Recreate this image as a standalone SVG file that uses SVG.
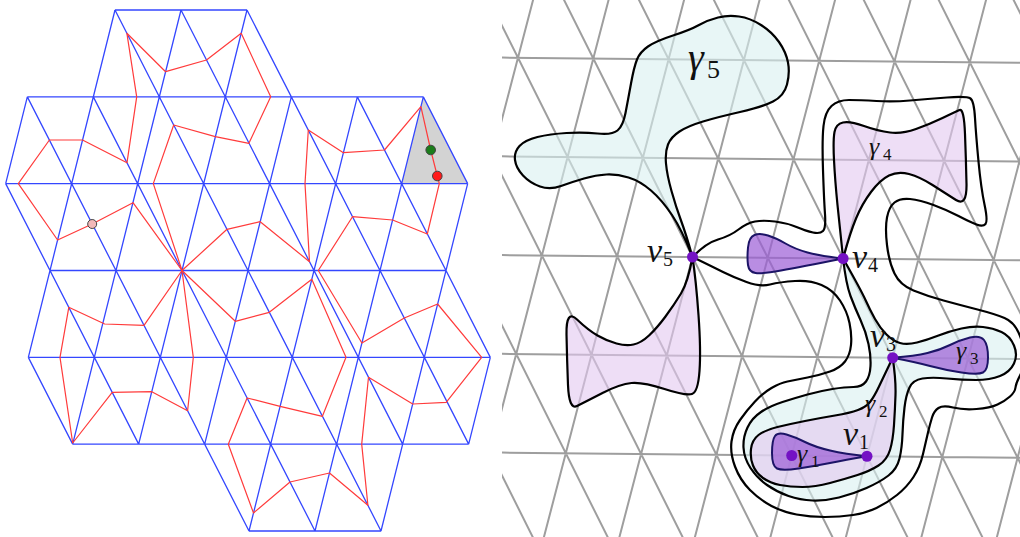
<svg xmlns="http://www.w3.org/2000/svg" width="1020" height="537" viewBox="0 0 1020 537">
<style>
.blue{fill:none;stroke:#3447ff;stroke-width:1.3}
.red{fill:none;stroke:#ff3b3b;stroke-width:1.2;stroke-linejoin:round}
.lat{fill:none;stroke:#9e9e9e;stroke-width:2}
.ol{stroke:#000;stroke-width:2.2;stroke-linejoin:round}
.cyan{fill:#d8f0f0;fill-opacity:.6}
.lav{fill:#e2c8f0;fill-opacity:.6}
.dark{fill:#9b5cd6;fill-opacity:.7;stroke:#1c1466;stroke-width:2;stroke-linejoin:round}
.pt{fill:#7412c4}
.it{font-family:"Liberation Serif","DejaVu Serif",serif;font-style:italic;fill:#111}
.sub{font-family:"Liberation Serif","DejaVu Serif",serif;fill:#111}
</style>
<defs>
<clipPath id="rc"><rect x="502" y="0" width="518" height="537"/></clipPath>
</defs>
<rect width="1020" height="537" fill="#fff"/>

<g id="left-panel">
<polygon id="shaded-triangle" points="423.33,96.83 401.67,183.67 467.67,183.67" fill="#d3d3d3"/>
<path id="blue-triangulation" class="blue" d="M115,10H247 M27.33,96.83H423.33 M5.67,183.67H467.67 M50,270.5H446 M28.33,357.33H490.33 M72.67,444.17H468.67 M249,531H381
M27.33,96.83L5.67,183.67 M115,10L28.33,357.33 M181,10L72.67,444.17 M247,10L138.67,444.17 M291.33,96.83L204.67,444.17 M357.33,96.83L249,531 M423.33,96.83L315,531 M467.67,183.67L381,531 M490.33,357.33L468.67,444.17
M423.33,96.83L467.67,183.67 M357.33,96.83L490.33,357.33 M247,10L468.67,444.17 M181,10L402.67,444.17 M115,10L381,531 M93.33,96.83L315,531 M27.33,96.83L249,531 M5.67,183.67L138.67,444.17 M28.33,357.33L72.67,444.17"/>
<g id="red-curves">
<path class="red" d="M182,270.5 L133,202.7 L92.2,224 L57.6,240 L18.3,183.67 L49.4,140 L82.5,140 L127,162.7 L136.7,96.83 L126.9,33.3 L165.6,71.7 L206.5,60 L241.2,33.3 L270.7,96.83 L248.9,143.3 L215.3,136.7 L173.7,125 L153.3,183.67 Z"/>
<path class="red" d="M182,270.5 L144,325.3 L104.7,324 L68.8,307.3 L60,357.33 L72.7,443 L112.2,392.3 L151.8,391.7 L187.6,410.7 L193.3,357.33 Z"/>
<path class="red" d="M182,270.5 L235.3,321.3 L269.3,312.3 L311.8,279.3 L346,357.33 L322.4,416.3 L280.1,406.3 L247.1,398 L228.3,444.17 L253.5,513 L290,482 L329.5,473 L367.9,505.3 L361.7,444.17 L368.5,377.3 L412.7,404 L446.2,402.3 L481.7,357.33 L437.6,304 L404.3,318 L361.9,343 L318.3,270.5 L352.5,216.7 L392.6,220 L427.3,234 L439.3,183.67 L437.3,176 L430.7,150 L420.9,106.7 L384.5,150 L343.4,152.7 L308.3,130 L305,183.67 L309.5,261.7 L260.2,221.7 L227,229.3 Z"/>
</g>
<g id="left-dots" stroke="#444" stroke-width="1">
<circle cx="92.2" cy="224" r="4.5" fill="#f2b8b8"/>
<circle cx="430.7" cy="150" r="4.8" fill="#1b7d1b"/>
<circle cx="437.3" cy="176" r="4.8" fill="#ff1a1a"/>
</g>
</g>

<g id="right-panel">
<g id="lattice" clip-path="url(#rc)">
<path class="lat" d="M502,57.59L1020,62.75 M502,156.35L1020,161.51 M502,255.1L1020,260.26 M502,353.86L1020,359.02 M502,452.61L1020,457.77
M543.7,-40.75L389.5,550.25 M619,-40L464.8,551 M694.3,-39.25L540.1,551.75 M769.6,-38.5L615.4,552.5 M844.9,-37.75L690.7,553.25 M920.2,-37L766,554 M995.5,-36.25L841.3,554.75 M1070.8,-35.5L916.6,555.5 M1146.1,-34.75L991.9,556.25
M242.5,-43.75L540.1,551.75 M317.8,-43L615.4,552.5 M393.1,-42.25L690.7,553.25 M468.4,-41.5L766,554 M543.7,-40.75L841.3,554.75 M619,-40L916.6,555.5 M694.3,-39.25L991.9,556.25 M769.6,-38.5L1067.2,557 M844.9,-37.75L1142.5,557.75 M920.2,-37L1217.8,558.5 M995.5,-36.25L1293.1,559.25"/>
</g>
<g id="regions" clip-path="url(#rc)">
<path id="outer-loop" class="ol" fill="none" d="M692.5,257 Q706,243 718,239.5 Q730,236 738.5,229.5 Q747,223 755,221.5 Q763,220 775,221.5 Q787,223 796.5,227 Q806,231 813,232.5 Q820,234 823,231 Q826,228 825,214 Q824,200 823,170 Q822,140 823.5,126 Q825,112 831.5,106 Q838,100 849,100 Q860,100 876.5,101 Q893,102 910,100.5 Q927,99 947,97.5 Q967,96 970.5,98.5 Q974,101 975,118 Q976,135 978.5,161.5 Q981,188 984.5,204.5 Q988,221 985.5,224 Q983,227 976.5,224.5 Q970,222 958.5,216 Q947,210 933.5,205 Q920,200 910,199 Q900,198 894.5,202.5 Q889,207 887,217.5 Q885,228 887,245 Q889,262 894.5,273.5 Q900,285 913.5,290.5 Q927,296 943.5,300.5 Q960,305 977.5,309.5 Q995,314 1004.5,318 Q1014,322 1019,333.5 Q1024,345 1024,356.5 Q1024,368 1020,375.5 Q1016,383 1015.5,387.5 Q1015,392 1010,396.5 Q1005,401 997.5,404.5 Q990,408 976.5,409 Q963,410 953,407.5 Q943,405 938.5,408 Q934,411 932,417.5 Q930,424 928,432.5 Q926,441 923,454 Q920,467 913.5,477 Q907,487 897,495 Q887,503 876.5,508 Q866,513 853,515 Q840,517 825,517 Q810,517 796.5,514.5 Q783,512 771.5,506 Q760,500 750,490 Q740,480 735,466.5 Q730,453 731.5,441.5 Q733,430 740,420 Q747,410 755,401.5 Q763,393 771.5,388 Q780,383 787.5,381.5 Q795,380 807.5,377.5 Q820,375 830,371.5 Q840,368 845,361.5 Q850,355 851,345 Q852,335 849.5,323 Q847,311 840,300.5 Q833,290 821.5,285 Q810,280 795,281 Q780,282 770,284.5 Q760,287 746.5,282 Q733,277 723,272 Q713,267 692.5,257 Z"/>
<path id="gamma5" class="ol cyan" d="M692.5,257 Q682,230 672,215 Q662,200 651,190.5 Q640,181 628.5,177.5 Q617,174 606.5,174.5 Q596,175 584,178.5 Q572,182 561,186 Q550,190 540,186.5 Q530,183 523,175.5 Q516,168 515,160 Q514,152 519.5,146 Q525,140 537.5,137 Q550,134 566.5,133 Q583,132 597.5,133.5 Q612,135 617.5,130.5 Q623,126 625.5,113 Q628,100 631,83.5 Q634,67 637,59.5 Q640,52 648,46.5 Q656,41 673,35.5 Q690,30 699,25 Q708,20 718,17.5 Q728,15 739,16.5 Q750,18 761,25 Q772,32 779,42 Q786,52 788,62.5 Q790,73 787,84.5 Q784,96 773,101.5 Q762,107 740,112 Q718,117 703,121.5 Q688,126 679.5,131.5 Q671,137 668,144.5 Q665,152 666,163.5 Q667,175 671.5,191 Q676,207 681,220.5 Q686,234 692.5,257 Z"/>
<path id="v5-lower-blob" class="ol lav" d="M692.5,257 Q688,282 681,293.5 Q674,305 665.5,316.5 Q657,328 649,335.5 Q641,343 633.5,344.5 Q626,346 616.5,343.5 Q607,341 597.5,335.5 Q588,330 577,319.5 Q566,309 566.5,334.5 Q567,360 568,385 Q569,410 577,406 Q585,402 602.5,393 Q620,384 631.5,383 Q643,382 664.5,389 Q686,396 692,394 Q698,392 699.5,371 Q701,350 698.5,315 Q696,280 692.5,257 Z"/>
<path id="gamma4" class="ol lav" d="M843.1,258.5 Q840,230 837.5,205 Q835,180 834,160 Q833,140 834.5,132 Q836,124 843,122.5 Q850,121 864,126 Q878,131 890,132.5 Q902,134 916,129 Q930,124 942.5,118 Q955,112 959.5,110 Q964,108 965,134 Q966,160 966.5,183.5 Q967,207 956,200 Q945,193 932.5,185 Q920,177 909,174 Q898,171 889,175.5 Q880,180 871,192 Q862,204 856,218.5 Q850,233 843.1,258.5 Z"/>
<path id="cyan-region" class="ol cyan" d="M843.1,258.5 Q846,284 850.5,296 Q855,308 860.5,320 Q866,332 868.5,344 Q871,356 870.5,366 Q870,376 866,381.5 Q862,387 853.5,387 Q845,387 832.5,389 Q820,391 807.5,394.5 Q795,398 782.5,402 Q770,406 761,412 Q752,418 747.5,427.5 Q743,437 743.5,447.5 Q744,458 750.5,468 Q757,478 767,485 Q777,492 788.5,496 Q800,500 812.5,500.5 Q825,501 839,497.5 Q853,494 866.5,488 Q880,482 888.5,475.5 Q897,469 899.5,458.5 Q902,448 902.5,434 Q903,420 904.5,407.5 Q906,395 909.5,387.5 Q913,380 922.5,378.5 Q932,377 947,378.5 Q962,380 976,380 Q990,380 1000,376 Q1010,372 1014,363.5 Q1018,355 1014,345.5 Q1010,336 1001.5,332 Q993,328 983,327 Q973,326 961.5,328.5 Q950,331 938.5,335.5 Q927,340 917,342.5 Q907,345 900,343 Q893,341 886.5,334.5 Q880,328 875,319 Q870,310 865.5,300 Q861,290 843.1,258.5 Z"/>
<path id="gamma2" class="ol lav" d="M892.7,357.75 Q884,376 879,386.5 Q874,397 870,402 Q866,407 858,410 Q850,413 835,415.5 Q820,418 805,421 Q790,424 777.5,427 Q765,430 758.5,435 Q752,440 751,449 Q750,458 753,465.5 Q756,473 763,478 Q770,483 780,485 Q790,487 802.5,487 Q815,487 830,483 Q845,479 857.5,475 Q870,471 878.5,465.5 Q887,460 890,450 Q893,440 894,425 Q895,410 895.5,395 Q896,380 892.7,357.75 Z"/>
<path id="v4-blob" class="dark" d="M843.1,258.5 Q820,256 807.5,252.5 Q795,249 785.5,243.5 Q776,238 768,235.5 Q760,233 754.5,235 Q749,237 748,247.5 Q747,258 748,265 Q749,272 755.5,273 Q762,274 781,270.5 Q800,267 843.1,258.5 Z"/>
<path id="gamma1" class="dark" d="M867,456.25 Q845,454 830,450.5 Q815,447 805,442 Q795,437 786.5,434.5 Q778,432 775,436 Q772,440 772,453 Q772,466 777,468.5 Q782,471 798.5,468.5 Q815,466 830,463 Q845,460 867,456.25 Z"/>
<path id="gamma3" class="dark" d="M892.7,357.75 Q915,356 927.5,353 Q940,350 950,345 Q960,340 970,337.5 Q980,335 984,340 Q988,345 988,357.5 Q988,370 983,372.5 Q978,375 961.5,372.5 Q945,370 930,366 Q915,362 892.7,357.75 Z"/>
</g>
<g id="points">
<circle id="v5" class="pt" cx="692.5" cy="257" r="5.5"/>
<circle id="v4" class="pt" cx="843.1" cy="258.5" r="5.5"/>
<circle id="v3" class="pt" cx="892.7" cy="357.75" r="5.5"/>
<circle id="v1" class="pt" cx="867" cy="456.25" r="5.5"/>
<circle id="g1pt" class="pt" cx="791.7" cy="455.5" r="5.5"/>
</g>
<g id="labels">
<text class="it" x="688" y="71" font-size="40">γ</text><text class="sub" x="707" y="78" font-size="26">5</text>
<text class="it" x="647" y="262" font-size="34">v</text><text class="sub" x="663" y="266" font-size="20">5</text>
<text class="it" x="852" y="268" font-size="34">v</text><text class="sub" x="868" y="272" font-size="20">4</text>
<text class="it" x="870" y="347" font-size="34">v</text><text class="sub" x="886" y="351" font-size="20">3</text>
<text class="it" x="843" y="445" font-size="34">v</text><text class="sub" x="859" y="449" font-size="20">1</text>
<text class="it" x="869" y="155" font-size="26">γ</text><text class="sub" x="883" y="160" font-size="17">4</text>
<text class="it" x="956" y="359" font-size="26">γ</text><text class="sub" x="970" y="364" font-size="17">3</text>
<text class="it" x="865" y="412" font-size="26">γ</text><text class="sub" x="879" y="417" font-size="17">2</text>
<text class="it" x="797" y="462" font-size="26">γ</text><text class="sub" x="811" y="467" font-size="17">1</text>
</g>
</g>
</svg>
